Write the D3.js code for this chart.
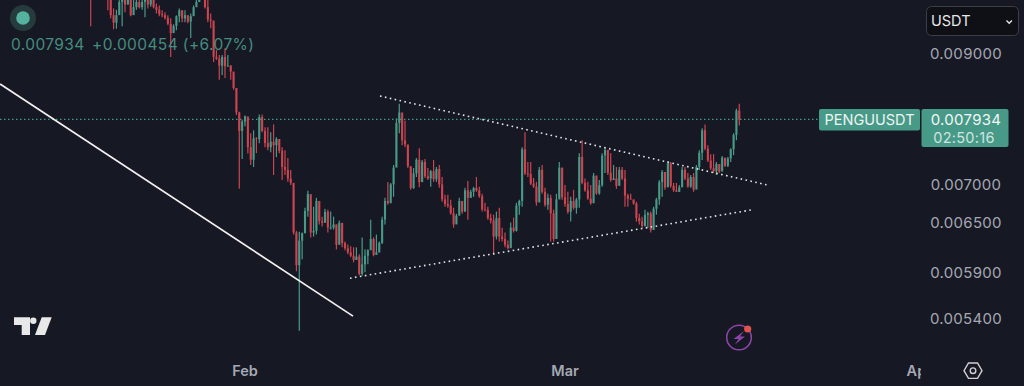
<!DOCTYPE html>
<html><head><meta charset="utf-8">
<script src="https://cdn.jsdelivr.net/npm/d3@7"></script>
<style>
html,body{margin:0;padding:0;background:#161823;overflow:hidden}
svg{display:block}
text{font-family:Inter,Roboto,"Liberation Sans",sans-serif}
</style></head><body><svg id="c" width="1024" height="386"></svg>
<script>
const symbol = "PENGUUSDT", currency = "USDT", countdown = "02:50:16";
const lastPrice = 0.007934, changeText = "+0.000454 (+6.07%)";
const priceTicks = [0.009, 0.007, 0.0065, 0.0059, 0.0054];
const monthTicks = ["2025-02-01", "2025-03-01", "2025-04-01"];
const firstCandle = "2025-01-18T12:00:00Z", firstOpen = 10300; // 6h candles, prices in millionths
const highs = [
10400,10600,10550,10700,10600,10500,10250,10200,9827,9800,10000,10200,10180,10250,10200,10000,10050,10100,10000,10150,10100,10100,10100,9920,9884,9790,9752,9696,
9640,9531,9696,9827,9790,9790,9640,9733,9884,10000,10150,10200,10100,9990,9733,9513,9068,8983,8983,9100,8983,8812,8645,8430,8050,7930,7995,7860,
7725,7769,7666,8008,8008,7813,7813,7740,7858,7666,7592,7520,7477,7364,7197,6927,6400,6390,6380,6692,6914,6769,6705,6821,6731,6578,6680,6667,
6642,6578,6478,6528,6453,6270,6235,6212,6200,6200,6117,6320,6176,6176,6540,6320,6355,6270,6578,6821,7033,7020,7266,7950,8178,7950,7919,7520,
7224,7224,7364,7505,7336,7350,7224,7197,7336,7238,7266,7100,6861,6861,6795,6692,6615,6821,6756,6953,7047,6927,6967,7100,6967,6874,6756,6705,
6615,6603,6642,6692,6440,6380,6283,6503,6565,6756,6795,7520,7740,7308,7308,7088,7034,7238,7266,6953,6874,6861,6667,6874,7308,7088,6993,6900,
6835,6927,6821,7434,7622,7080,7034,6993,7155,7060,7060,7434,7505,7477,7434,7266,7238,7238,7238,7197,6874,6874,6795,6769,6615,6578,6667,6640,
6642,6705,6821,7060,7197,7155,7322,7308,7020,7020,6993,7238,7238,7155,7128,7155,7266,7477,7800,7858,7549,7420,7420,7308,7266,7392,7364,7378,
7505,7725,8100,8178];
const lows = [
9495,10100,10150,10200,10150,10100,9790,9640,9440,9450,9715,9495,9752,9900,9678,9790,9800,9827,9800,9660,9827,9860,9827,9733,9678,9660,9620,9513,
8948,9386,9422,9567,9567,9567,9549,9280,9696,9884,9950,10000,9827,9567,9459,8860,8897,8563,8645,8595,8780,8563,8400,8000,6940,7350,7830,7430,
7266,7238,7434,7578,7740,7520,7477,7448,7128,7378,7434,7060,7128,7034,6993,6355,5920,5280,6060,6380,6578,6320,6330,6355,6478,6453,6515,6380,
6416,6416,6176,6295,6200,6165,6117,6082,6024,6059,5876,5870,5910,6001,6260,6094,6117,6140,6240,6478,6731,6821,6835,7238,7725,7549,7520,7224,
6927,6940,7100,6960,7128,7088,7060,6967,7034,7034,6953,6770,6705,6692,6603,6440,6515,6615,6615,6667,6540,6821,6835,6900,6821,6642,6642,6540,
6490,6117,6295,6270,6270,6200,6176,6200,6380,6392,6603,6705,7128,7100,6993,6953,6718,6900,6874,6705,6667,6270,6270,6440,6835,6795,6705,6615,
6515,6667,6615,6692,7000,6900,6795,6731,6861,6861,6861,6967,7155,7128,7034,7060,6940,7034,7060,6705,6705,6795,6731,6515,6478,6440,6453,6440,
6380,6453,6603,6731,6835,6927,6993,6953,6900,6900,6900,6967,7060,6953,6953,6900,7128,7197,7336,7477,7308,7197,7155,7128,7155,7197,7238,7238,
7308,7406,7622,7843];
const closes = [
10250,10350,10300,10400,10300,10200,10000,9700,9560,9700,9950,10000,9900,10100,9700,9850,9950,9850,9950,10050,9900,10000,9850,9800,9720,9700,9650,9540,
9370,9500,9680,9790,9640,9700,9580,9680,9850,9950,10100,10050,9850,9620,9600,8950,8920,8800,8950,8790,8800,8700,8430,8040,7760,7900,7980,7520,
7340,7650,7640,7970,7760,7580,7520,7600,7549,7640,7470,7240,7200,7080,7020,6380,5990,6280,6370,6650,6870,6380,6400,6780,6520,6500,6640,6440,
6440,6480,6230,6500,6250,6190,6140,6100,6050,6090,5890,6000,6100,6165,6300,6110,6140,6255,6540,6780,6750,7000,7230,7880,8040,7620,7560,7250,
6950,7150,7340,7030,7310,7110,7080,7180,7070,7210,7000,6800,6740,6720,6620,6480,6590,6780,6640,6920,6820,6900,6950,6920,6840,6670,6665,6560,
6530,6330,6560,6330,6300,6230,6190,6440,6400,6720,6780,7490,7150,7140,7010,6970,6760,7200,6900,6730,6820,6620,6300,6800,7230,6830,6740,6640,
6780,6690,6800,7380,7020,6920,6810,6750,7120,6880,6990,7400,7480,7160,7060,7080,6980,7200,7080,6850,6810,6800,6745,6560,6520,6460,6600,6620,
6410,6680,6800,7030,7170,6960,7290,6980,6920,6900,6960,7200,7080,6970,7100,6930,7240,7440,7770,7500,7330,7220,7180,7280,7175,7370,7255,7360,
7490,7700,8070,7934];

const trendSolid = [["2025-01-10T13:40:00Z", 8494], ["2025-02-10T10:50:00Z", 5430]];
const trendUpper = [["2025-02-12T19:30:00Z", 8300], ["2025-03-18T16:00:00Z", 6993]];
const trendLower = [["2025-02-10T04:30:00Z", 5842], ["2025-03-17T10:30:00Z", 6667]];

const GREEN = "#479a88", RED = "#cb4551", BG = "#161823";
const svg = d3.select("#c");
const x = d3.scaleUtc().domain([new Date("2025-02-01"), new Date("2025-03-01")]).range([245, 565]);
const y = d3.scaleLog().domain([0.009, 0.0054]).range([54, 319]);
const t0 = +new Date(firstCandle);
const candles = closes.map((c, i) => ({
  t: new Date(t0 + i * 6 * 3600e3),
  o: (i ? closes[i - 1] : firstOpen) / 1e6, c: c / 1e6, h: highs[i] / 1e6, l: lows[i] / 1e6
}));

svg.append("rect").attr("width", 1024).attr("height", 386).attr("fill", BG);
const defs = svg.append("defs");
defs.append("clipPath").attr("id", "plot").append("rect").attr("width", 1024).attr("height", 386);
defs.append("clipPath").attr("id", "xclip").append("rect").attr("width", 921).attr("height", 386);
defs.append("filter").attr("id", "soft").append("feGaussianBlur").attr("stdDeviation", 0.35);

// last price line
svg.append("line").attr("x1", 0).attr("x2", 819).attr("y1", y(lastPrice)).attr("y2", y(lastPrice))
  .attr("stroke", "#4fae9b").attr("stroke-width", 1.2).attr("stroke-dasharray", "1.5 2.5").attr("opacity", .85);

// candles
const cg = svg.append("g").attr("clip-path", "url(#plot)").append("g").attr("filter", "url(#soft)");
const col = d => d.c >= d.o ? GREEN : RED;
cg.selectAll("line").data(candles).join("line")
  .attr("x1", d => x(d.t)).attr("x2", d => x(d.t))
  .attr("y1", d => y(d.h)).attr("y2", d => y(d.l))
  .attr("stroke", col).attr("stroke-width", 1.2);
cg.selectAll("rect").data(candles).join("rect")
  .attr("x", d => x(d.t) - 1.05).attr("width", 2.1)
  .attr("y", d => Math.min(y(d.o), y(d.c)))
  .attr("height", d => Math.max(.8, Math.abs(y(d.o) - y(d.c))))
  .attr("fill", col);

// trend lines
const line = d3.line().x(d => x(new Date(d[0]))).y(d => y(d[1] / 1e6));
svg.append("path").attr("d", line(trendSolid)).attr("stroke", "#f2f2f2").attr("stroke-width", 1.7).attr("fill", "none");
[trendUpper, trendLower].forEach(t => svg.append("path").attr("d", line(t))
  .attr("stroke", "#e4e6ea").attr("stroke-width", 1.6).attr("fill", "none")
  .attr("stroke-dasharray", "1.6 3.4"));

// legend
svg.append("circle").attr("cx", 23).attr("cy", 18).attr("r", 13).attr("fill", "#263b3d");
svg.append("circle").attr("cx", 23).attr("cy", 18).attr("r", 6.8).attr("fill", "#55b29e");
svg.append("text").attr("x", 11).attr("y", 49.5).attr("font-size", 15.5).attr("fill", "#458d7f").attr("letter-spacing", .4)
  .text(d3.format(".6f")(lastPrice));
svg.append("text").attr("x", 92).attr("y", 49.5).attr("font-size", 15.5).attr("fill", "#458d7f").attr("letter-spacing", .4)
  .text(changeText);

// axes
const ya = d3.axisRight(y).tickValues(priceTicks).tickFormat(d3.format(".6f")).tickSize(0);
const yg = svg.append("g").attr("transform", "translate(966,0)").call(ya);
yg.select(".domain").remove();
yg.selectAll("text").attr("x", 0).attr("text-anchor", "middle").attr("font-family", null)
  .attr("font-size", 15).attr("fill", "#a5a8b2").attr("letter-spacing", .3);
const xa = d3.axisBottom(x).tickValues(monthTicks.map(d => new Date(d))).tickFormat(d3.utcFormat("%b")).tickSize(0);
const xg = svg.append("g").attr("clip-path", "url(#xclip)").append("g").attr("transform", "translate(-0.5,364.5)").call(xa);
xg.select(".domain").remove();
xg.selectAll("text").attr("y", 0).attr("dy", "0.8em").attr("font-family", null)
  .attr("font-size", 14.5).attr("font-weight", 600).attr("fill", "#a5a8b2");

// currency selector
svg.append("rect").attr("x", 926.5).attr("y", 6.5).attr("width", 92).attr("height", 29).attr("rx", 5)
  .attr("fill", "#0f1015").attr("stroke", "#3c3e48");
svg.append("text").attr("x", 931).attr("y", 26).attr("font-size", 14.5).attr("fill", "#e6e7ea").text(currency);
svg.append("path").attr("d", "M1006.5 20.5l2.7 2.7 2.7-2.7").attr("fill", "none").attr("stroke", "#e6e7ea").attr("stroke-width", 1.4);

// price tags
svg.append("rect").attr("x", 819).attr("y", 109).attr("width", 101).attr("height", 21.5).attr("rx", 2).attr("fill", GREEN);
svg.append("rect").attr("x", 921.5).attr("y", 109).attr("width", 87).attr("height", 38).attr("rx", 2).attr("fill", GREEN);
svg.append("text").attr("x", 869.5).attr("y", 125).attr("text-anchor", "middle").attr("font-size", 14.5).attr("fill", "#f0f4f3").text(symbol);
svg.append("text").attr("x", 966).attr("y", 125).attr("text-anchor", "middle").attr("font-size", 15).attr("letter-spacing", .3).attr("fill", "#f4f6f6").text(d3.format(".6f")(lastPrice));
svg.append("text").attr("x", 964).attr("y", 142.5).attr("text-anchor", "middle").attr("font-size", 14.5).attr("letter-spacing", .3).attr("fill", "#cfe4df").text(countdown);

// TradingView logo
const logo = svg.append("g").attr("fill", "#e8e8e8");
logo.append("path").attr("d", "M14 317.3H30V335H21.7V325H14Z");
logo.append("circle").attr("cx", 33.3).attr("cy", 320.7).attr("r", 3.2);
logo.append("path").attr("d", "M41.7 317.3H51.7L45 335H35Z");

// bolt badge
svg.append("circle").attr("cx", 739).attr("cy", 337.5).attr("r", 12.3).attr("fill", "none").attr("stroke", "#8a45a8").attr("stroke-width", 1.6);
svg.append("path").attr("d", "M744 331L733.5 339H738.5L735 344.5L745 336.5H740Z").attr("fill", "#8a45a8");
svg.append("circle").attr("cx", 747.7).attr("cy", 329).attr("r", 3.6).attr("fill", "#e0524e");

// settings hexagon
svg.append("path").attr("d", "M968.5 363H977.5L982 370.7L977.5 378.4H968.5L964 370.7Z").attr("fill", "none").attr("stroke", "#cfd0d5").attr("stroke-width", 1.4);
svg.append("circle").attr("cx", 973).attr("cy", 370.7).attr("r", 2.8).attr("fill", "none").attr("stroke", "#cfd0d5").attr("stroke-width", 1.4);
</script></body></html>
